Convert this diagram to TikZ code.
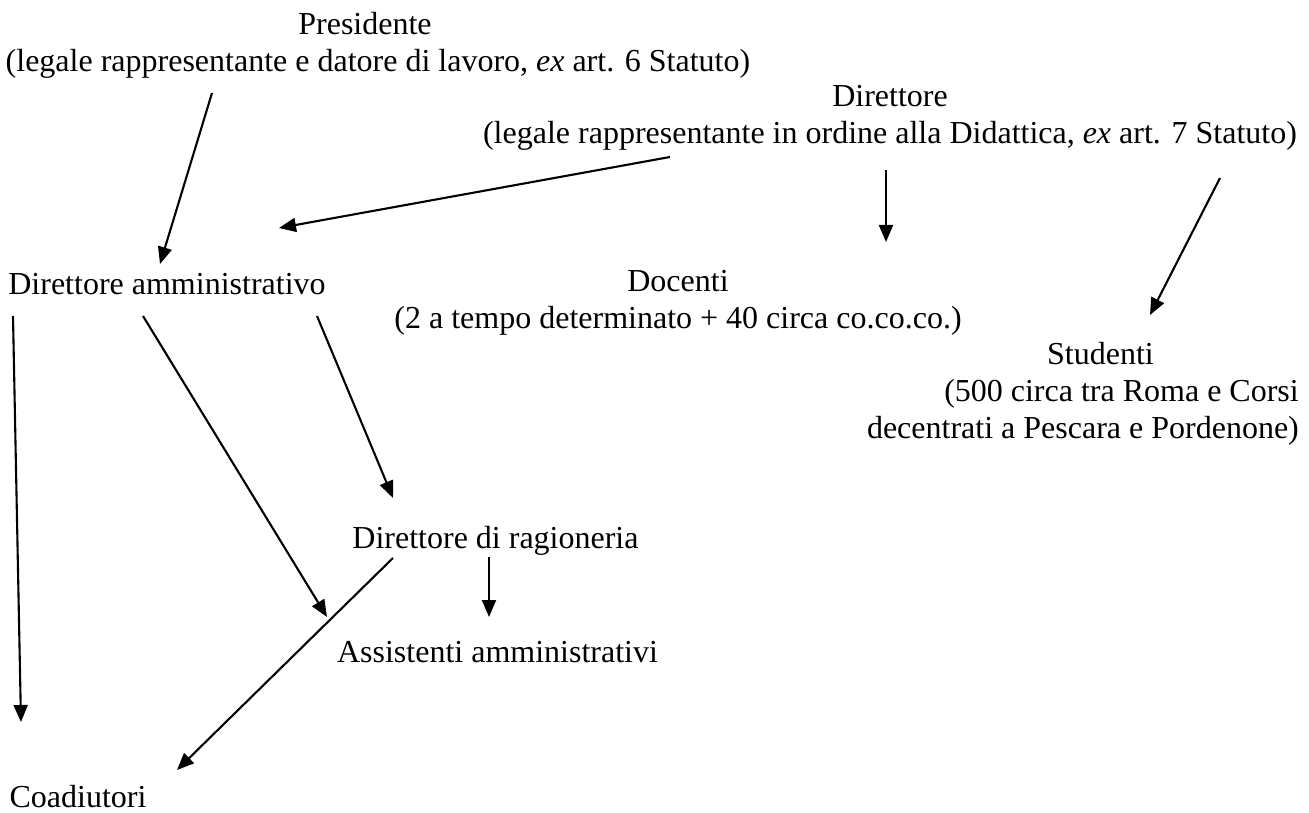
\documentclass[tikz,border=0pt]{standalone}
\usepackage{fontspec}
\setmainfont{Liberation Serif}
\usetikzlibrary{arrows.meta}
\begin{document}
\begin{tikzpicture}[x=1pt,y=-1pt,
  lbl/.style={inner sep=0pt, font=\fontsize{32}{37}\selectfont, anchor=base},
  arr/.style={line width=2.1pt, -{Triangle[length=17pt,width=14pt]}}]
\useasboundingbox (0,0) rectangle (1309,813);
\node[lbl] (pres) at (378,35) {\begin{tabular}[t]{@{}c@{}}\hspace*{-26pt}Presidente\\(legale rappresentante e datore di lavoro, \textit{ex} art. 6 Statuto)\end{tabular}};
\node[lbl] (dir) at (890,107) {\begin{tabular}[t]{@{}c@{}}Direttore\\(legale rappresentante in ordine alla Didattica, \textit{ex} art. 7 Statuto)\end{tabular}};
\node[lbl] (dam) at (167,294) {Direttore amministrativo};
\node[lbl] (doc) at (678,291) {\begin{tabular}[t]{@{}c@{}}Docenti\\(2 a tempo determinato + 40 circa co.co.co.)\end{tabular}};
\node[lbl, anchor=base east] (stud) at (1299,364) {\begin{tabular}[t]{@{}r@{}}Studenti\kern145pt\\(500 circa tra Roma e Corsi\\decentrati a Pescara e Pordenone)\end{tabular}};
\node[lbl] (rag) at (495.5,548) {Direttore di ragioneria};
\node[lbl] (ass) at (497.5,662) {Assistenti amministrativi};
\node[lbl] (coa) at (78,807) {Coadiutori};
\draw[arr] ([shift={(-166,58)}]pres.base) -- ([shift={(-7,-30)}]dam.base);
\draw[arr] ([shift={(-220,50)}]dir.base) -- ([shift={(112,-66)}]dam.base);
\draw[arr] ([shift={(-4,63)}]dir.base) -- ([shift={(208,-49)}]doc.base);
\draw[arr] ([shift={(330,71)}]dir.base) -- ([shift={(-149,-49)}]stud.base east);
\draw[arr] ([shift={(-154,22)}]dam.base) -- ([shift={(-57,-85)}]coa.base);
\draw[arr] ([shift={(-24,22)}]dam.base) -- ([shift={(-170.5,-45)}]ass.base);
\draw[arr] ([shift={(150,22)}]dam.base) -- ([shift={(-102.5,-50)}]rag.base);
\draw[arr] ([shift={(-6.5,9)}]rag.base) -- ([shift={(-8.5,-45)}]ass.base);
\draw[arr] ([shift={(-102.5,10)}]rag.base) -- ([shift={(99,-37)}]coa.base);
\end{tikzpicture}
\end{document}
